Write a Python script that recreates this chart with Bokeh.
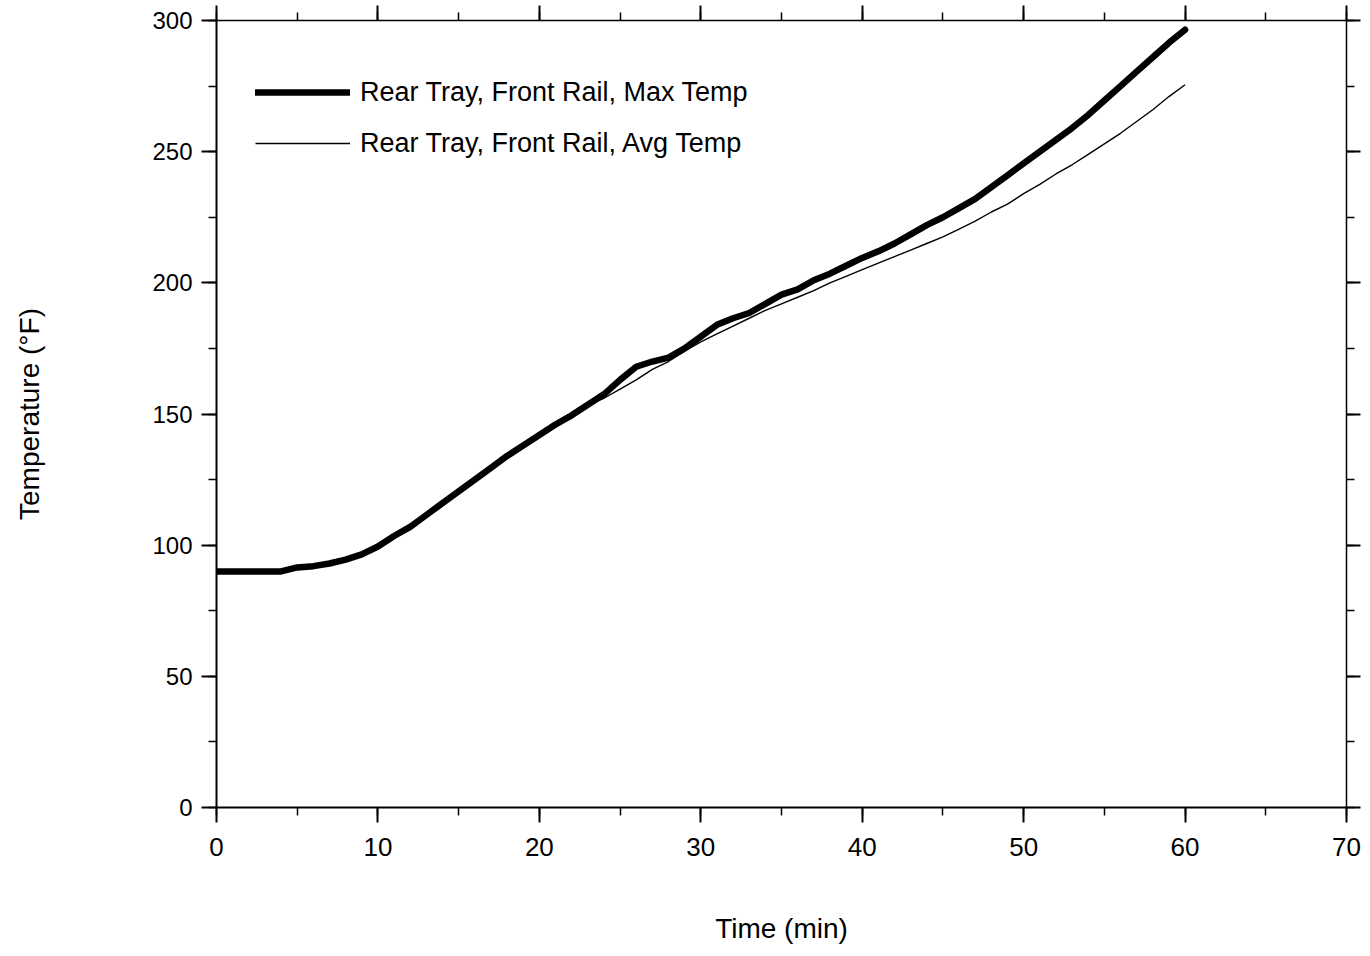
from bokeh.plotting import figure
from bokeh.models import Range1d, LinearAxis, SingleIntervalTicker, Legend, LegendItem
from bokeh.embed import file_html
from bokeh.resources import INLINE

# ---- data ----
time_min = list(range(0, 61))
max_temp = [90, 90, 90, 90, 90, 91.5, 92, 93, 94.5, 96.5,
            99.5, 103.5, 107, 111.5, 116, 120.5, 125, 129.5, 134, 138,
            142, 146, 149.5, 153.5, 157.5, 163, 168, 170, 171.5, 175,
            179.5, 184, 186.5, 188.5, 192, 195.5, 197.5, 201, 203.5, 206.5,
            209.5, 212, 215, 218.5, 222, 225, 228.5, 232, 236.5, 241,
            245.5, 250, 254.5, 259, 264, 269.5, 275, 280.5, 286, 291.5,
            296.5]
avg_temp = [90, 90, 90, 90, 90, 91.5, 92, 93, 94.5, 96.5,
            99.5, 103.5, 107, 111.5, 116, 120.5, 125, 129.5, 134, 138,
            142, 146, 149.5, 153.5, 156, 159.5, 163, 167, 170, 174,
            177.5, 180.5, 183.5, 186.5, 189.5, 192, 194.5, 197, 200, 202.5,
            205, 207.5, 210, 212.5, 215, 217.5, 220.5, 223.5, 227, 230,
            234, 237.5, 241.5, 245, 249, 253, 257, 261.5, 266, 271,
            275.5]
x_ticks_interval = 10
y_ticks_interval = 50
series_labels = ["Rear Tray, Front Rail, Max Temp", "Rear Tray, Front Rail, Avg Temp"]
x_title = "Time (min)"
y_title = "Temperature (°F)"

FONT = "Liberation Sans"

p = figure(width=1362, height=948, output_backend="svg", toolbar_location=None,
           x_range=Range1d(0, 70), y_range=Range1d(0, 300),
           x_axis_location=None, y_axis_location=None,
           frame_width=1130, frame_height=787,
           min_border_left=216, min_border_top=20, min_border_right=16, min_border_bottom=141)
p.outline_line_color = None
p.xgrid.visible = False
p.ygrid.visible = False
p.background_fill_color = "white"
p.border_fill_color = "white"


def style_axis(ax, out_major, out_minor, lw, font_size, standoff):
    ax.axis_line_color = "black"
    ax.axis_line_width = lw
    ax.major_tick_line_color = "black"
    ax.major_tick_line_width = 2
    ax.minor_tick_line_color = "black"
    ax.minor_tick_line_width = 1.5
    ax.major_tick_in = 0
    ax.major_tick_out = out_major
    ax.minor_tick_in = 0
    ax.minor_tick_out = out_minor
    ax.major_label_text_font = FONT
    ax.major_label_text_font_size = font_size
    ax.major_label_text_color = "black"
    ax.major_label_standoff = standoff
    ax.axis_label_text_font = FONT
    ax.axis_label_text_font_style = "normal"
    ax.axis_label_text_color = "black"
    ax.axis_label_text_font_size = "28px"


xt = lambda: SingleIntervalTicker(interval=x_ticks_interval, num_minor_ticks=2)
yt = lambda: SingleIntervalTicker(interval=y_ticks_interval, num_minor_ticks=2)

xb = LinearAxis(ticker=xt(), axis_label=x_title)
style_axis(xb, 15, 8, 2, "26px", 15)
xb.axis_label_standoff = 54
p.add_layout(xb, "below")

yl = LinearAxis(ticker=yt(), axis_label=y_title)
style_axis(yl, 15, 8, 2, "24px", 9)
yl.axis_label_standoff = 104
p.add_layout(yl, "left")

xa = LinearAxis(ticker=xt())
style_axis(xa, 15, 8, 1.5, "0px", 0)
xa.major_label_text_color = None
p.add_layout(xa, "above")

yr = LinearAxis(ticker=yt())
style_axis(yr, 14, 8, 1.5, "0px", 0)
yr.major_label_text_color = None
p.add_layout(yr, "right")

r_max = p.line(time_min, max_temp, line_color="black", line_width=6.5, line_join="round", line_cap="round")
r_avg = p.line(time_min, avg_temp, line_color="black", line_width=1.4, line_join="round")

legend = Legend(items=[LegendItem(label=series_labels[0], renderers=[r_max]),
                       LegendItem(label=series_labels[1], renderers=[r_avg])],
                location=(39, 644))
legend.border_line_color = None
legend.background_fill_alpha = 0
legend.padding = 0
legend.margin = 0
legend.spacing = 11
legend.glyph_width = 95
legend.glyph_height = 40
legend.label_height = 40
legend.label_standoff = 10
legend.label_text_font = FONT
legend.label_text_font_size = "27px"
legend.label_text_color = "black"
p.add_layout(legend, "center")

open("out.html", "w").write(file_html(p, INLINE))
